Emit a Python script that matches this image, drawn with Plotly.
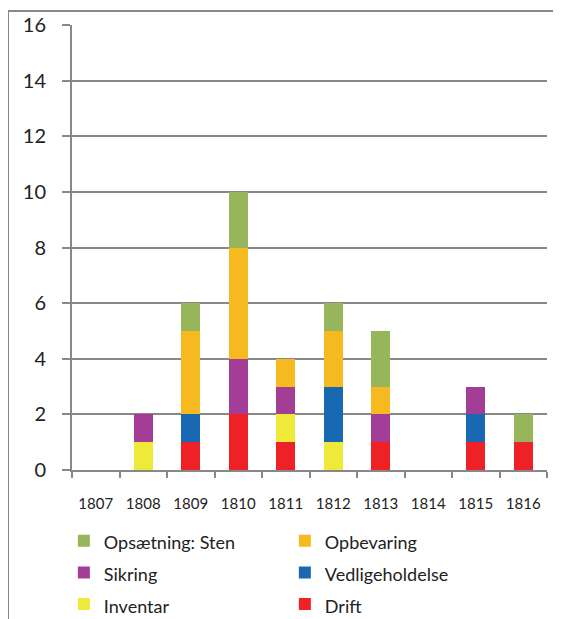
import plotly.graph_objects as go

years = ["1807", "1808", "1809", "1810", "1811", "1812", "1813", "1814", "1815", "1816"]
drift = [0, 0, 1, 2, 1, 0, 1, 0, 1, 1]
inventar = [0, 1, 0, 0, 1, 1, 0, 0, 0, 0]
vedligeholdelse = [0, 0, 1, 0, 0, 2, 0, 0, 1, 0]
sikring = [0, 1, 0, 2, 1, 0, 1, 0, 1, 0]
opbevaring = [0, 0, 3, 4, 1, 2, 1, 0, 0, 0]
opsaetning = [0, 0, 1, 2, 0, 1, 2, 0, 0, 1]

series = [
    ("Drift", drift, "#EE2226"),
    ("Inventar", inventar, "#EFEA3A"),
    ("Vedligeholdelse", vedligeholdelse, "#1868B2"),
    ("Sikring", sikring, "#A33D96"),
    ("Opbevaring", opbevaring, "#F6B91F"),
    ("Opsætning: Sten", opsaetning, "#97B55A"),
]

fig = go.Figure()
for name, vals, col in series:
    fig.add_trace(go.Bar(x=years, y=vals, name="<span style='font-size:18px'>" + name + "</span>",
                         marker=dict(color=col, line=dict(width=0))))

axis_col = "#888888"
font = "Lato, 'Open Sans', sans-serif"

fig.update_layout(
    width=553, height=611,
    margin=dict(l=64, r=14, t=17, b=149),
    barmode="stack", bargap=0.59,
    plot_bgcolor="white", paper_bgcolor="white",
    font=dict(family=font, color="#222222"),
    showlegend=True,
    legend=dict(orientation="h", traceorder="reversed",
                xref="container", x=0.101, xanchor="left",
                yref="container", y=0.162, yanchor="top", entrywidth=176,
                entrywidthmode="pixels", font=dict(size=22, family=font),
                itemwidth=30, borderwidth=0),
    xaxis=dict(showline=True, linecolor=axis_col, linewidth=2, ticks="outside",
               tickson="boundaries", ticklen=6, tickcolor=axis_col, tickwidth=2,
               tickfont=dict(size=15), ticklabelstandoff=19, showgrid=False,
               automargin=False),
    yaxis=dict(range=[0, 16], dtick=2, showline=True, linecolor=axis_col, linewidth=2,
               ticks="outside", ticklen=8, tickcolor=axis_col, tickwidth=2,
               showgrid=True, gridcolor=axis_col, gridwidth=2, zeroline=False,
               tickfont=dict(size=20), ticklabelstandoff=12, automargin=False),
    shapes=[
        dict(type="line", xref="paper", yref="paper", x0=-0.1347, x1=1.04, y0=1.0315, y1=1.0315,
             line=dict(color=axis_col, width=2)),
        dict(type="line", xref="paper", yref="paper", x0=-0.1347, x1=-0.1347, y0=1.0315, y1=-0.36,
             line=dict(color=axis_col, width=2)),
    ],
)

fig.write_html("out.html")
